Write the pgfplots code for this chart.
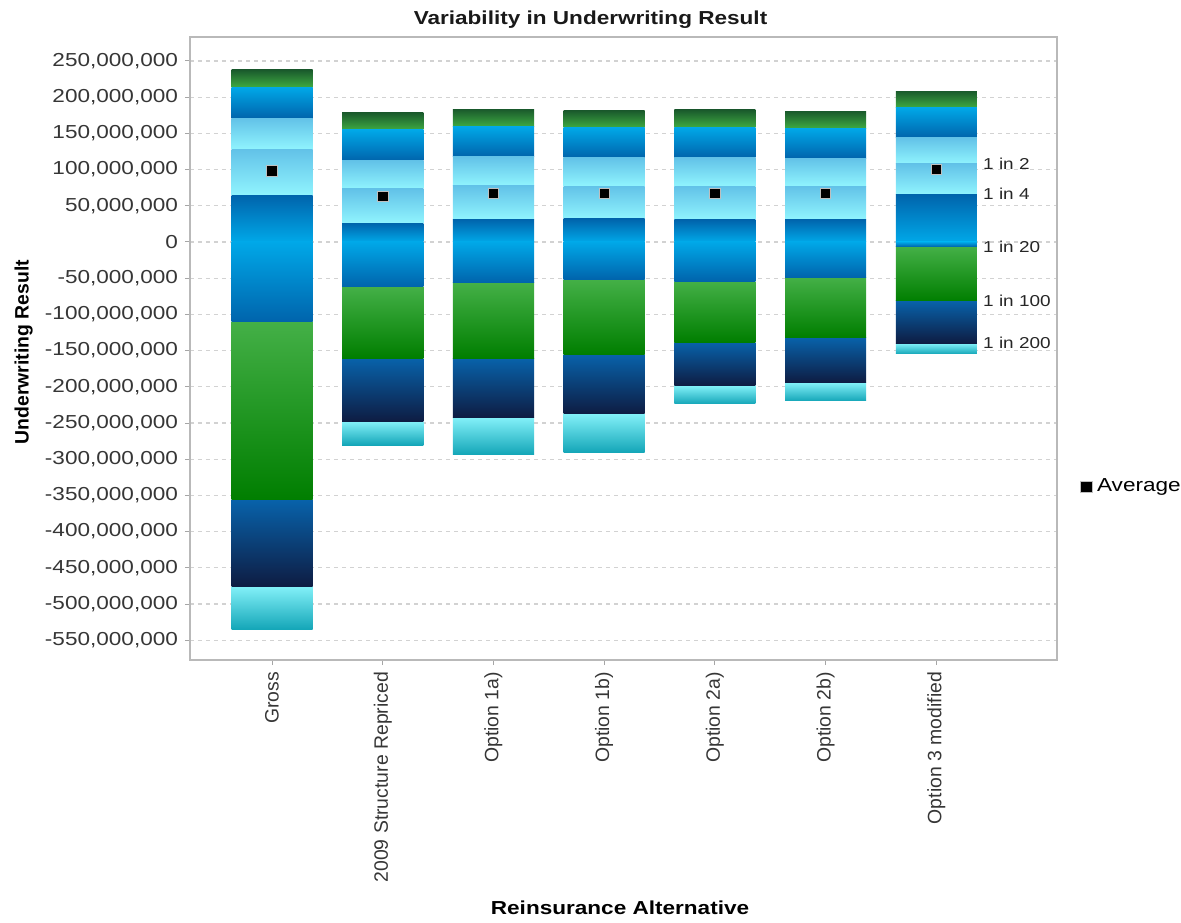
\documentclass[border=0pt]{standalone}
\usepackage{fontspec}
\setmainfont{Liberation Sans}[FakeStretch=1.2]
\newfontfamily\rotfont{Liberation Sans}
\usepackage{pgfplots}
\usepackage{pgfplotstable}
\pgfplotsset{compat=1.18}

% band colours (top / bottom of each gradient)
\definecolor{cyanTop}{HTML}{82F0F8}
\definecolor{cyanBot}{HTML}{14A6B8}
\definecolor{navyTop}{HTML}{0862AA}
\definecolor{navyBot}{HTML}{0E1C42}
\definecolor{grnTop}{HTML}{44B047}
\definecolor{grnBot}{HTML}{007E00}
\definecolor{blueDark}{HTML}{0064AC}
\definecolor{blueLight}{HTML}{00A8E8}
\definecolor{paleTop}{HTML}{62C2E8}
\definecolor{paleBot}{HTML}{90F4FE}
\definecolor{dgTop}{HTML}{1A5A2C}
\definecolor{dgBot}{HTML}{3EAA42}
\definecolor{tickgray}{HTML}{363636}

% band boundaries in millions: lowest value, 1 in 200, 1 in 100, 1 in 20,
% 1 in 4, 1 in 2, upper bands, highest value; plus the average
\pgfplotstableread{
x  lo     q200   q100   q20    q4   q2    u1    u2    hi    avg
0 -534.9 -476.0 -356.3 -109.8  64.5 128.0 170.9 213.7 237.6  98.1
1 -280.4 -248.2 -160.6  -61.7  26.2  73.2 112.3 154.7 178.6  62.6
2 -293.2 -242.7 -160.6  -56.2  31.4  77.8 117.8 159.2 183.3  66.7
3 -290.4 -237.5 -155.1  -51.5  31.8  77.3 116.4 157.9 181.3  66.7
4 -223.7 -198.5 -138.5  -53.9  30.4  77.3 116.4 158.4 182.3  66.7
5 -219.6 -194.3 -132.2  -48.8  31.4  77.3 115.6 157.0 180.5  66.7
6 -154.7 -139.9  -81.5   -6.5  65.9 107.7 144.0 185.5 208.5 100.4
}\bands

\newcommand{\hfont}{\fontsize{9.4}{11}\selectfont}
\newcommand{\rfont}{\rotfont\fontsize{9.7}{11}\selectfont}
\newcommand{\sfont}{\fontsize{7.9}{9}\selectfont}

\pgfplotsset{
  shared/.style={
    scale only axis,
    width=433.5pt, height=311.5pt,
    xmin=-0.741, xmax=7.09,
    ymin=-577.3e6, ymax=283.1e6,
  },
  band/.style 2 args={draw=none, top color=#1, bottom color=#2},
}

\begin{document}
\begin{tikzpicture}
\path[use as bounding box] (-95pt,-131pt) rectangle (495.5pt,330pt);
\node[font=\hfont\bfseries, text=black!90] at (200.25pt,320pt) {Variability in Underwriting Result};

% frame, grid, ticks and axis titles
\begin{axis}[
  shared,
  xtick={0,1,2,3,4,5,6},
  xticklabels={Gross,2009 Structure Repriced,Option 1a),Option 1b),Option 2a),Option 2b),Option 3 modified},
  xticklabel style={rotate=90, anchor=east, font=\rfont, text=tickgray},
  ytick={-550000000,-500000000,-450000000,-400000000,-350000000,-300000000,
         -250000000,-200000000,-150000000,-100000000,-50000000,0,
         50000000,100000000,150000000,200000000,250000000},
  scaled y ticks=false,
  yticklabel style={font=\hfont, text=tickgray,
    /pgf/number format/.cd, fixed, precision=0, 1000 sep={,}, assume math mode=true},
  tick pos=left,
  tick align=outside,
  major tick length=2.5pt,
  tick style={gray!70, line width=0.5pt},
  ymajorgrids,
  grid style={gray!35, dash pattern=on 2pt off 2pt, line width=0.6pt},
  axis line style={gray!55, line width=1pt},
  xlabel={Reinsurance Alternative},
  xlabel style={at={(axis description cs:0.496,-0.398)}, anchor=center, font=\hfont\bfseries},
  ylabel={Underwriting Result},
  ylabel style={at={(axis description cs:-0.192,0.494)}, anchor=center, font=\rfont\bfseries},
]
\end{axis}

% one stacked bar per alternative, so that every band gets its own gradient
\pgfplotsinvokeforeach{0,1,2,3,4,5,6}{
\begin{axis}[shared, axis lines=none, ybar stacked, bar width=0.732]
% losses stack downward from zero
\addplot[band={blueLight}{blueDark}, restrict x to domain=#1:#1]
  table[x=x, y expr=\thisrow{q20}*1e6] {\bands};
\addplot[band={grnTop}{grnBot}, restrict x to domain=#1:#1]
  table[x=x, y expr=(\thisrow{q100}-\thisrow{q20})*1e6] {\bands};
\addplot[band={navyTop}{navyBot}, restrict x to domain=#1:#1]
  table[x=x, y expr=(\thisrow{q200}-\thisrow{q100})*1e6] {\bands};
\addplot[band={cyanTop}{cyanBot}, restrict x to domain=#1:#1]
  table[x=x, y expr=(\thisrow{lo}-\thisrow{q200})*1e6] {\bands};
% profits stack upward from zero
\addplot[band={blueDark}{blueLight}, restrict x to domain=#1:#1]
  table[x=x, y expr=\thisrow{q4}*1e6] {\bands};
\addplot[band={paleTop}{paleBot}, restrict x to domain=#1:#1]
  table[x=x, y expr=(\thisrow{q2}-\thisrow{q4})*1e6] {\bands};
\addplot[band={paleTop}{paleBot}, restrict x to domain=#1:#1]
  table[x=x, y expr=(\thisrow{u1}-\thisrow{q2})*1e6] {\bands};
\addplot[band={blueLight}{blueDark}, restrict x to domain=#1:#1]
  table[x=x, y expr=(\thisrow{u2}-\thisrow{u1})*1e6] {\bands};
\addplot[band={dgTop}{dgBot}, restrict x to domain=#1:#1]
  table[x=x, y expr=(\thisrow{hi}-\thisrow{u2})*1e6] {\bands};
\end{axis}
}

% averages, legend and return-period labels on the same frame
\begin{axis}[
  shared,
  axis lines=none,
  legend style={draw=none, fill=none, at={(axis description cs:1.0266,0.278)}, anchor=west,
    font=\hfont, inner sep=0pt, nodes={inner xsep=2.5pt}},
  legend cell align=left,
  legend image post style={mark size=2.9pt},
]
\addplot[only marks, mark=square*, mark size=2.6pt,
  mark options={fill=black, draw=white!75!black, line width=0.4pt}]
  table[x=x, y expr=\thisrow{avg}*1e6] {\bands};
\addlegendentry{Average}
\node[anchor=west, font=\sfont, text=black!85, inner sep=0pt] at (axis cs:6.42,107.7e6) {1 in 2};
\node[anchor=west, font=\sfont, text=black!85, inner sep=0pt] at (axis cs:6.42,65.9e6) {1 in 4};
\node[anchor=west, font=\sfont, text=black!85, inner sep=0pt] at (axis cs:6.42,-6.5e6) {1 in 20};
\node[anchor=west, font=\sfont, text=black!85, inner sep=0pt] at (axis cs:6.42,-81.5e6) {1 in 100};
\node[anchor=west, font=\sfont, text=black!85, inner sep=0pt] at (axis cs:6.42,-139.9e6) {1 in 200};
\end{axis}
\end{tikzpicture}
\end{document}
